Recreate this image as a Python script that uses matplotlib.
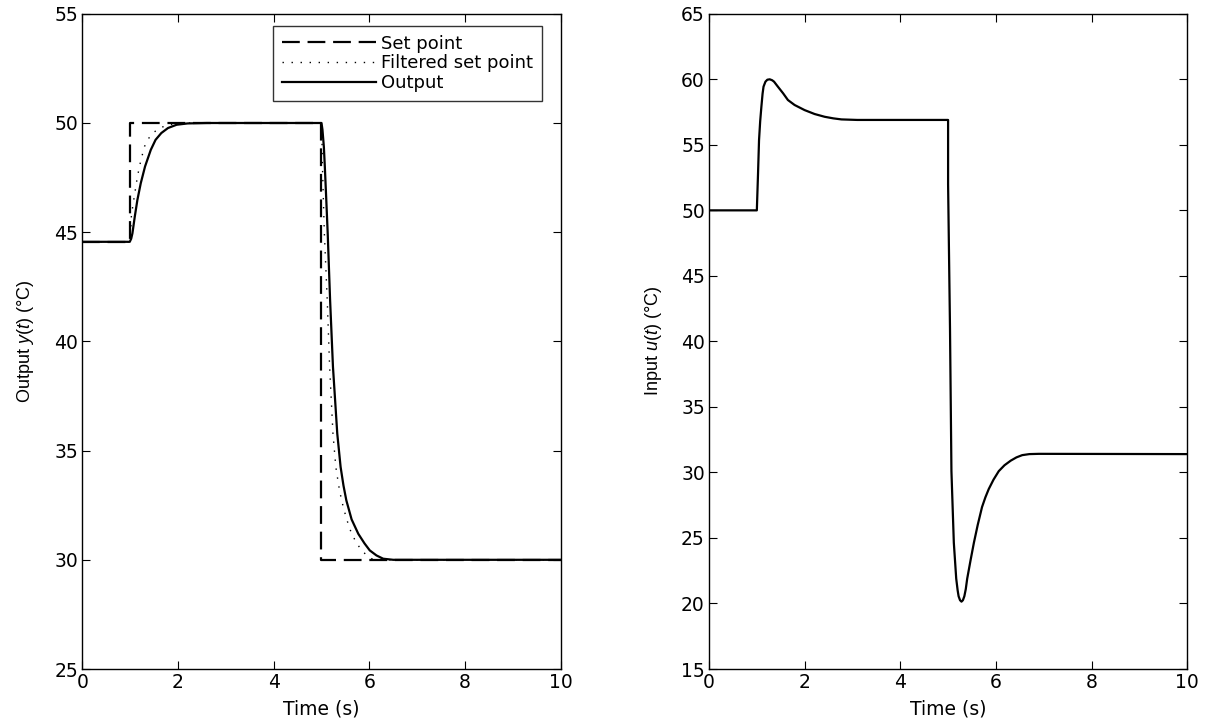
import numpy as np
import matplotlib
matplotlib.use("Agg")
import matplotlib.pyplot as plt

plt.rcParams['font.family'] = ['DejaVu Sans']
plt.rcParams['mathtext.fontset'] = 'custom'
plt.rcParams['mathtext.rm'] = 'Liberation Sans'
plt.rcParams['mathtext.it'] = 'Liberation Sans:italic'

# set point (step changes)
t_sp = [0.0, 1.0, 1.0, 5.0, 5.0, 10.0]
y_sp = [44.56, 44.56, 50.0, 50.0, 30.0, 30.0]

# filtered set point
t_fsp = [0.0, 1.0, 1.025, 1.095, 1.14, 1.185, 1.234, 1.30, 1.39, 1.49, 1.62, 1.76, 1.95, 2.2,
         5.0, 5.01, 5.02, 5.06, 5.12, 5.17, 5.24, 5.30, 5.36, 5.42, 5.52, 5.63, 5.74, 5.84,
         5.95, 6.05, 6.3, 10.0]
y_fsp = [44.56, 44.56, 45.79, 46.78, 47.4, 47.93, 48.39, 48.93, 49.31, 49.57, 49.77, 49.89, 49.97, 50.0,
         50.0, 49.3, 48.0, 44.95, 41.9, 38.84, 35.78, 34.25, 33.4, 32.72, 31.9, 31.19, 30.75, 30.43,
         30.2, 30.05, 30.0, 30.0]

# measured output y(t)
t_out = [0.0, 0.99, 1.02, 1.046, 1.095, 1.15, 1.22, 1.31, 1.43, 1.53, 1.65, 1.79, 1.97, 2.2, 2.6,
         5.0, 5.02, 5.05, 5.07, 5.10, 5.13, 5.18, 5.24, 5.33, 5.40, 5.46, 5.52, 5.63, 5.77, 5.9,
         6.01, 6.15, 6.29, 6.5, 10.0]
y_out = [44.56, 44.56, 44.7, 44.95, 45.71, 46.48, 47.24, 48.01, 48.77, 49.23, 49.54, 49.77, 49.92, 49.98, 50.0,
         50.0, 49.7, 48.9, 48.0, 46.5, 44.95, 41.9, 38.84, 35.78, 34.25, 33.4, 32.72, 31.85, 31.19, 30.75,
         30.43, 30.2, 30.05, 30.0, 30.0]

# control input u(t)
t_in = [0.0, 1.0, 1.025, 1.046, 1.07, 1.095, 1.12, 1.14, 1.18, 1.22, 1.27, 1.32, 1.36, 1.44, 1.55,
        1.65, 1.79, 2.0, 2.21, 2.42, 2.6, 2.77, 3.1, 5.0,
        5.0, 5.04, 5.07, 5.12, 5.17, 5.20, 5.22, 5.25, 5.28, 5.31, 5.34, 5.37, 5.40, 5.47, 5.54,
        5.62, 5.71, 5.78, 5.85, 5.95, 6.06, 6.18, 6.31, 6.43, 6.55, 6.7, 6.9, 10.0]
u_in = [50.0, 50.0, 52.8, 55.36, 56.8, 57.9, 58.9, 59.44, 59.82, 59.97, 60.0, 59.93, 59.82, 59.44, 58.93,
        58.42, 58.04, 57.65, 57.35, 57.14, 57.02, 56.94, 56.9, 56.9,
        52.0, 41.0, 30.1, 24.64, 21.9, 21.0, 20.55, 20.25, 20.14, 20.25, 20.55, 21.1, 21.9, 23.3, 24.64,
        26.0, 27.36, 28.1, 28.73, 29.45, 30.1, 30.55, 30.9, 31.15, 31.32, 31.4, 31.42, 31.4]

fig = plt.figure(figsize=(12.12, 7.26), dpi=100)
ax1 = fig.add_axes([0.0680, 0.0785, 0.3945, 0.9025])
ax2 = fig.add_axes([0.5850, 0.0785, 0.3945, 0.9025])

lw = 1.6
ax1.plot(t_sp, y_sp, color='black', lw=lw, linestyle=(0, (8, 3.5)), label='Set point')
ax1.plot(t_fsp, y_fsp, color='black', lw=1.0, linestyle=(0, (1, 5.5)), label='Filtered set point')
ax1.plot(t_out, y_out, color='black', lw=lw, label='Output')
ax2.plot(t_in, u_in, color='black', lw=lw)

ax1.set_ylim(25, 55)
ax1.set_yticks(np.arange(25, 56, 5))
ax2.set_ylim(15, 65)
ax2.set_yticks(np.arange(15, 66, 5))

for ax in (ax1, ax2):
    ax.set_xlim(0, 10)
    ax.set_xticks(np.arange(0, 11, 2))
    ax.tick_params(direction='in', top=True, right=True, length=6, width=0.8,
                   labelsize=13.5, pad=3)
    for s in ax.spines.values():
        s.set_linewidth(1.0)
    ax.set_xlabel('Time (s)', fontsize=13.5, labelpad=5)

ax1.set_ylabel('Output $\\mathit{y}$($\\mathit{t}$) (°C)', fontsize=13, labelpad=13,
               family=['Liberation Sans'])
ax2.set_ylabel('Input $\\mathit{u}$($\\mathit{t}$) (°C)', fontsize=13, labelpad=12,
               family=['Liberation Sans'])

leg = ax1.legend(loc='upper right', bbox_to_anchor=(0.962, 0.982), fontsize=13, frameon=True,
                 fancybox=False, edgecolor='black', handlelength=5.2, borderpad=0.5,
                 labelspacing=0.1, handletextpad=0.3, borderaxespad=0.0)
leg.get_frame().set_linewidth(1.0)

fig.savefig('out.png', dpi=100)
